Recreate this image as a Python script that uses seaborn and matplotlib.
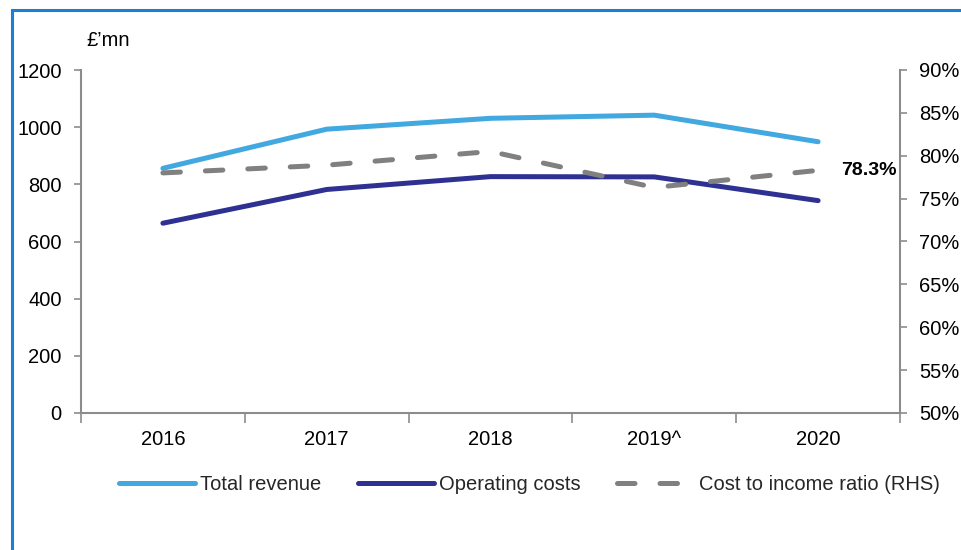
import matplotlib
matplotlib.use("Agg")
import matplotlib.pyplot as plt
import seaborn as sns
import pandas as pd
import numpy as np
from matplotlib.patches import Rectangle
from matplotlib.ticker import FixedLocator, PercentFormatter

years = ["2016", "2017", "2018", "2019^", "2020"]
total_revenue = [856, 993, 1031, 1042, 949]
operating_costs = [664, 782, 827, 826, 743]
cost_income_ratio = [78.0, 78.9, 80.5, 76.3, 78.3]

sns.set_theme(style="white")
plt.rcParams['font.family'] = ['Liberation Sans', 'DejaVu Sans']

FS = 14.5
c_rev = "#41A8E0"
c_op = "#2E3192"
c_ratio = "#808080"
spine_c = "#8C8C8C"

df = pd.DataFrame({"pos": np.arange(len(years)), "rev": total_revenue,
                   "op": operating_costs, "ratio": cost_income_ratio})

fig = plt.figure(figsize=(9.61, 5.5), dpi=100)
ax = fig.add_axes([81/961, 1-413/550, (900-81)/961, (413-70)/550])
ax2 = ax.twinx()

sns.lineplot(data=df, x="pos", y="rev", ax=ax, color=c_rev, lw=3.6,
             solid_capstyle="round", label="Total revenue", legend=False)
sns.lineplot(data=df, x="pos", y="op", ax=ax, color=c_op, lw=3.6,
             solid_capstyle="round", label="Operating costs", legend=False)
sns.lineplot(data=df, x="pos", y="ratio", ax=ax2, color=c_ratio, lw=3.6,
             label="Cost to income ratio (RHS)", legend=False)
for ln in ax2.get_lines():
    ln.set_dashes((3.5, 5.0))
    ln.set_dash_capstyle("round")

ax.set_xlim(-0.5, 4.5)
ax.set_ylim(0, 1200)
ax2.set_ylim(50, 90)
ax.set_xlabel("")
ax.set_ylabel("")
ax2.set_ylabel("")

ax.set_xticks(range(len(years)))
ax.set_xticklabels(years)
ax.xaxis.set_minor_locator(FixedLocator(np.arange(-0.5, 5, 1)))
ax.tick_params(axis="x", which="major", length=0, pad=12, labelsize=FS, colors="black")
ax.tick_params(axis="x", which="minor", length=7, width=1.2, color=spine_c, direction="out", bottom=True)
ax.set_yticks(range(0, 1201, 200))
ax.tick_params(axis="y", which="major", length=5, width=1.2, color=spine_c, direction="out",
               left=True, pad=9, labelsize=FS, labelcolor="black")
ax2.set_yticks(range(50, 91, 5))
ax2.yaxis.set_major_formatter(PercentFormatter(decimals=0))
ax2.tick_params(axis="y", which="major", length=5, width=1.2, color=spine_c, direction="out",
                right=True, pad=9, labelsize=FS, labelcolor="black")

for a in (ax, ax2):
    a.spines["top"].set_visible(False)
    for s in ("left", "right", "bottom"):
        a.spines[s].set_color(spine_c)
        a.spines[s].set_linewidth(1.5)
ax.spines["right"].set_visible(False)
ax2.spines["left"].set_visible(False)
ax2.spines["bottom"].set_visible(False)

ax2.text(4 + 0.14, cost_income_ratio[-1], f"{cost_income_ratio[-1]:.1f}%", fontsize=FS - 0.5,
         fontweight="bold", va="center", ha="left", color="black")

fig.text(108/961, 1-40/550, "£’mn", fontsize=FS, ha="center", va="center", color="black")

handles = ax.get_lines() + ax2.get_lines()
labels = ["Total revenue", "Operating costs", "Cost to income ratio (RHS)"]
leg = fig.legend(handles, labels, loc="center", bbox_to_anchor=(529/961, 1-485/550), ncol=3,
                 frameon=False, fontsize=FS, handlelength=3.8, columnspacing=1.8, handletextpad=0.25)

fig.patches.append(Rectangle((12/961, -0.1), 1.2, 1.1 - 10/550, transform=fig.transFigure,
                             fill=False, edgecolor="#1C7ED6", linewidth=2.2))

fig.savefig("out.png", dpi=100)
